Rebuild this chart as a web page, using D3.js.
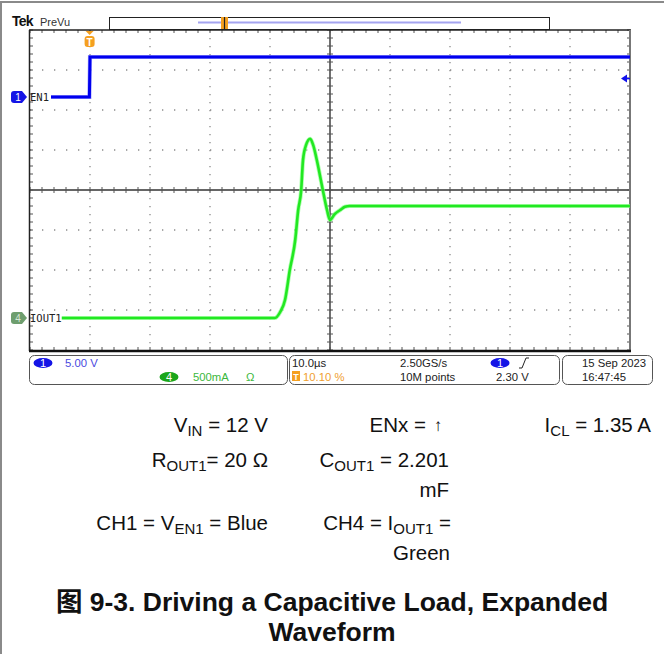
<!DOCTYPE html>
<html><head><meta charset="utf-8">
<script src="https://cdn.jsdelivr.net/npm/d3@7"></script>
<style>
html,body{margin:0;padding:0;background:#fff;}
svg{display:block;}
</style></head>
<body>
<svg id="c" width="664" height="654"></svg>
<script>
// ---- data (time in µs from left of screen, 10 µs/div) ----
const blueTime  = [3.5, 9.9, 10.0, 100];
const blueVolts = [0, 0, 5, 5];
const greenTime = [5.3, 40.8, 41.7, 42.5, 43.3, 44.2, 44.7, 45.2, 45.5, 46.0, 46.7, 47.2, 47.8, 48.8, 49.5, 50.0, 50.8, 51.7, 52.5, 53.3, 100];
const greenAmps = [0, 0, 0.075, 0.225, 0.6, 0.975, 1.35, 1.6, 1.975, 2.16, 2.24, 2.16, 1.975, 1.6, 1.35, 1.225, 1.3, 1.35, 1.39, 1.40, 1.40];
const timeDivs  = [0,10,20,30,40,50,60,70,80,90,100];
const vertDivs  = [0,1,2,3,4,5,6,7,8];
const statusLeft  = ["5.00 V", "500mA", "Ω"];
const statusMid   = ["10.0µs", "10.10 %", "2.50GS/s", "10M points", "2.30 V"];
const statusRight = ["15 Sep  2023", "16:47:45"];
const triggerLevel = 2.30;
const triggerTime = 10.1;

const svg = d3.select("#c");
const x = d3.scaleLinear().domain([0,100]).range([30,630]);
const yDiv = d3.scaleLinear().domain([0,8]).range([30,350]);
const yBlue = d3.scaleLinear().domain([0,5]).range([97,57]);
const yGreen = d3.scaleLinear().domain([0,0.5]).range([318,278]);
const sans = "'Liberation Sans', Arial, 'Noto Sans CJK SC', sans-serif";

// page border
svg.append("line").attr("x1",0).attr("x2",664).attr("y1",2).attr("y2",2).attr("stroke","#8a8a8a").attr("stroke-width",2);
svg.append("line").attr("x1",1).attr("x2",1).attr("y1",2).attr("y2",654).attr("stroke","#8a8a8a").attr("stroke-width",2);

// header
svg.append("text").attr("x",12).attr("y",26).text("Tek").attr("font-family",sans).attr("font-weight","bold").attr("font-size",14).attr("fill","#111").attr("letter-spacing",-0.8);
svg.append("text").attr("x",40).attr("y",26).text("PreVu").attr("font-family",sans).attr("font-size",11).attr("fill","#333");
svg.append("rect").attr("x",109.5).attr("y",17.5).attr("width",440).attr("height",12).attr("fill","#fff").attr("stroke","#222").attr("stroke-width",1);
svg.append("line").attr("x1",198).attr("x2",461).attr("y1",22.5).attr("y2",22.5).attr("stroke","#a4a4f0").attr("stroke-width",2);
svg.append("rect").attr("x",221).attr("y",17).attr("width",7).attr("height",12).attr("fill","#f5a020");
svg.append("line").attr("x1",224.5).attr("x2",224.5).attr("y1",17).attr("y2",29).attr("stroke","#222").attr("stroke-width",1.2);

// grid
const g = svg.append("g");
timeDivs.slice(1,-1).forEach(t=>{
  if(t===50) return;
  g.append("line").attr("x1",x(t)).attr("x2",x(t)).attr("y1",yDiv(0)).attr("y2",yDiv(8))
   .attr("stroke","#8c8c8c").attr("stroke-width",1.3).attr("stroke-dasharray","1.3,6.7");
});
vertDivs.slice(1,-1).forEach(d=>{
  if(d===4) return;
  g.append("line").attr("x1",x(0)).attr("x2",x(100)).attr("y1",yDiv(d)).attr("y2",yDiv(d))
   .attr("stroke","#8c8c8c").attr("stroke-width",1.3).attr("stroke-dasharray","1.3,10.7");
});
// center cross
g.append("line").attr("x1",x(0)).attr("x2",x(100)).attr("y1",yDiv(4)).attr("y2",yDiv(4)).attr("stroke","#333").attr("stroke-width",1.4);
g.append("line").attr("x1",x(50)).attr("x2",x(50)).attr("y1",yDiv(0)).attr("y2",yDiv(8)).attr("stroke","#333").attr("stroke-width",1.4);
// minor ticks
const minorX = d3.range(0,100.01,2);
const minorY = d3.range(0,8.01,0.2);
minorX.forEach(t=>{
  [[yDiv(4)-3,yDiv(4)+3],[yDiv(0),yDiv(0)+3],[yDiv(8)-3,yDiv(8)]].forEach(([a,b])=>{
    g.append("line").attr("x1",x(t)).attr("x2",x(t)).attr("y1",a).attr("y2",b).attr("stroke","#555").attr("stroke-width",1);
  });
});
minorY.forEach(d=>{
  [[x(50)-3,x(50)+3],[x(0),x(0)+3],[x(100)-3,x(100)]].forEach(([a,b])=>{
    g.append("line").attr("x1",a).attr("x2",b).attr("y1",yDiv(d)).attr("y2",yDiv(d)).attr("stroke","#555").attr("stroke-width",1);
  });
});
// frame
svg.append("line").attr("x1",29).attr("x2",631).attr("y1",30).attr("y2",30).attr("stroke","#222").attr("stroke-width",1.5);
svg.append("line").attr("x1",29.5).attr("x2",29.5).attr("y1",30).attr("y2",351).attr("stroke","#222").attr("stroke-width",1.5);
svg.append("line").attr("x1",630).attr("x2",630).attr("y1",30).attr("y2",351).attr("stroke","#777").attr("stroke-width",2);
svg.append("line").attr("x1",29).attr("x2",631).attr("y1",351).attr("y2",351).attr("stroke","#111").attr("stroke-width",2.5);

// traces
const blueData = blueTime.map((t,i)=>[t,blueVolts[i]]);
const greenData = greenTime.map((t,i)=>[t,greenAmps[i]]);
const lb = d3.line().x(d=>x(d[0])).y(d=>yBlue(d[1]));
const lg = d3.line().x(d=>x(d[0])).y(d=>yGreen(d[1])).curve(d3.curveMonotoneX);
svg.append("path").attr("d",lb(blueData)).attr("fill","none").attr("stroke","#5a5aff").attr("stroke-width",4.2).attr("opacity",0.5);
svg.append("path").attr("d",lb(blueData)).attr("fill","none").attr("stroke","#0000ee").attr("stroke-width",3);
svg.append("path").attr("d",lg(greenData)).attr("fill","none").attr("stroke","#8cff8c").attr("stroke-width",4.2).attr("opacity",0.7);
svg.append("path").attr("d",lg(greenData)).attr("fill","none").attr("stroke","#22e822").attr("stroke-width",2.6);

// trigger marker top
const tx = x(triggerTime)-1;
svg.append("path").attr("d",`M${tx-4},31 L${tx+4},31 L${tx},35 Z`).attr("fill","#f5a020");
svg.append("rect").attr("x",tx-5).attr("y",36).attr("width",10).attr("height",11).attr("rx",3).attr("fill","#f5a020");
svg.append("text").attr("x",tx).attr("y",45.5).attr("text-anchor","middle").text("T").attr("font-family",sans).attr("font-weight","bold").attr("font-size",10).attr("fill","#fff");
// trigger level arrow right
const ty = yBlue(triggerLevel);
svg.append("path").attr("d",`M621,${ty} L627,${ty-4} L627,${ty+4} Z`).attr("fill","#1010ee");
svg.append("line").attr("x1",627).attr("x2",630).attr("y1",ty).attr("y2",ty).attr("stroke","#1010ee").attr("stroke-width",1.5);

// channel tags
function tag(y, fill, label, tc){
  svg.append("path").attr("d",`M14,${y-6} L22,${y-6} L27,${y} L22,${y+6} L14,${y+6} Q11,${y+6} 11,${y+3} L11,${y-3} Q11,${y-6} 14,${y-6} Z`).attr("fill",fill);
  svg.append("text").attr("x",18).attr("y",y+4).attr("text-anchor","middle").text(label).attr("font-family",sans).attr("font-size",10).attr("fill",tc);
}
tag(yBlue(0), "#1414e6", "1", "#fff");
tag(yGreen(0), "#6e9e6e", "4", "#d8e8d8");
svg.append("text").attr("x",30).attr("y",yBlue(0)+4).text("EN1").attr("font-family","'DejaVu Sans Mono', monospace").attr("font-size",10.5).attr("fill","#222");
svg.append("text").attr("x",30).attr("y",yGreen(0)+4).text("IOUT1").attr("font-family","'DejaVu Sans Mono', monospace").attr("font-size",10.5).attr("fill","#222");

// status bar
function box(x0,x1){ svg.append("rect").attr("x",x0+0.5).attr("y",355.5).attr("width",x1-x0).attr("height",29).attr("rx",5).attr("fill","#fff").attr("stroke","#555").attr("stroke-width",1); }
box(29,287); box(289,559); box(562,652);
function pill(cx,cy,fill,label){
  svg.append("ellipse").attr("cx",cx).attr("cy",cy).attr("rx",9.5).attr("ry",5).attr("fill",fill);
  svg.append("text").attr("x",cx).attr("y",cy+4).attr("text-anchor","middle").text(label).attr("font-family",sans).attr("font-size",11).attr("fill","#fff");
}
const st = (xx,yy,txt,col)=>svg.append("text").attr("x",xx).attr("y",yy).text(txt).attr("font-family",sans).attr("font-size",11.3).attr("fill",col);
pill(43,363,"#1414e6","1");
st(65,367,statusLeft[0],"#4a4ae0");
pill(169,377,"#1aa61a","4");
st(193,381,statusLeft[1],"#3cb83c");
st(246,381,statusLeft[2],"#3cb83c");
st(292,367,statusMid[0],"#222");
svg.append("rect").attr("x",292).attr("y",371).attr("width",8).attr("height",10).attr("fill","#f5a020");
svg.append("text").attr("x",296).attr("y",380).attr("text-anchor","middle").text("T").attr("font-family",sans).attr("font-weight","bold").attr("font-size",9).attr("fill","#fff");
st(303,381,statusMid[1],"#f0a030");
st(400,367,statusMid[2],"#222");
st(400,381,statusMid[3],"#222");
pill(500,363,"#1414e6","1");
svg.append("path").attr("d","M519,368 L522,368 L526,358 L529,358").attr("fill","none").attr("stroke","#222").attr("stroke-width",1);
st(496,381,statusMid[4],"#222");
st(582,367,statusRight[0],"#222");
st(582,381,statusRight[1],"#222");

// annotations
const FS = 20.5, SUB = 15, SD = 3.5;
const ann = svg.append("g").attr("font-family",sans).attr("font-size",FS).attr("fill","#111");
function rich(xx,yy,anchor,parts){
  const t = ann.append("text").attr("x",xx).attr("y",yy).attr("text-anchor",anchor);
  let shift = 0;
  parts.forEach(p=>{
    if(typeof p==="string"){ t.append("tspan").attr("dy",-shift).text(p); shift = 0; }
    else { t.append("tspan").attr("dy",SD).attr("font-size",SUB).text(p.sub); shift = SD; }
  });
  return t;
}
rich(268,432,"end",["V",{sub:"IN"}," = 12 V"]);
rich(426,432,"end",["ENx ="]);
ann.append("text").attr("x",438).attr("y",431).attr("text-anchor","middle").text("↑").attr("font-size",17);
rich(651,432,"end",["I",{sub:"CL"}," = 1.35 A"]);
rich(268,467,"end",["R",{sub:"OUT1"},"= 20 Ω"]);
rich(449,467,"end",["C",{sub:"OUT1"}," = 2.201"]);
rich(449,497,"end",["mF"]);
rich(268,530,"end",["CH1 = V",{sub:"EN1"}," = Blue"]);
rich(451,530,"end",["CH4 = I",{sub:"OUT1"}," ="]);
rich(450,560,"end",["Green"]);

// title
const tt = svg.append("g").attr("font-family",sans).attr("font-weight","bold").attr("font-size",26.5).attr("fill","#111").attr("text-anchor","middle");
tt.append("text").attr("x",332).attr("y",611).text("图 9-3. Driving a Capacitive Load, Expanded");
tt.append("text").attr("x",332).attr("y",641).text("Waveform");
</script>
</body></html>
